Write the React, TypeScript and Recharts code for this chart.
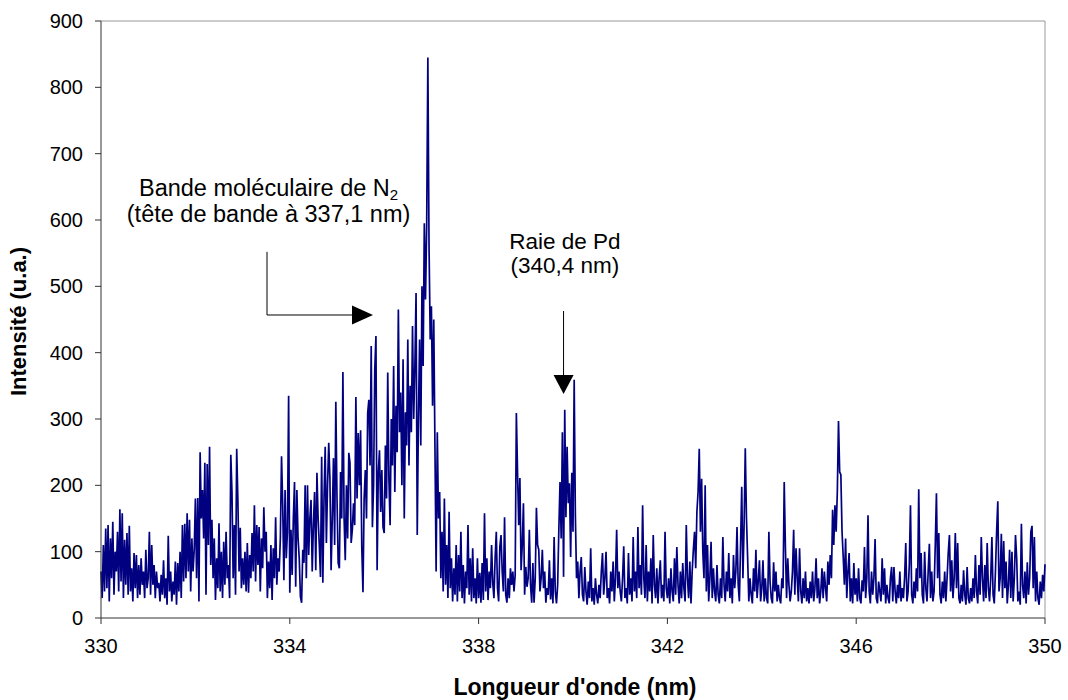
import { Label, Line, LineChart, ReferenceDot, ReferenceLine, XAxis, YAxis } from "recharts";

// Spectre d'émission : intensité relevée tous les 0,025 nm, de 330 à 350 nm
const START_NM = 330;
const STEP_NM = 0.025;

const int330 = [70, 30, 110, 40, 135, 45, 140, 25, 120, 60, 145, 35, 100, 70, 130, 40, 164, 55, 158, 30, 118, 50, 128, 35, 139, 40, 75, 25, 98, 45, 95, 30, 80, 35, 90, 50, 70, 30, 103, 45];
const int331 = [60, 130, 35, 110, 50, 80, 30, 70, 45, 53, 25, 65, 35, 87, 30, 60, 20, 124, 40, 70, 25, 55, 35, 85, 20, 83, 40, 100, 30, 140, 55, 142, 60, 158, 70, 148, 40, 120, 70, 103];
const int332 = [180, 60, 181, 25, 250, 150, 193, 120, 234, 35, 232, 110, 258, 80, 148, 60, 120, 27, 90, 45, 143, 40, 100, 30, 115, 50, 130, 60, 80, 30, 246, 190, 60, 140, 35, 255, 178, 70, 136, 45];
const int333 = [90, 50, 100, 40, 113, 38, 95, 60, 128, 70, 170, 55, 140, 80, 137, 40, 120, 75, 167, 100, 130, 30, 85, 45, 110, 27, 105, 60, 152, 50, 90, 70, 120, 244, 170, 57, 193, 90, 130, 335];
const int334 = [38, 133, 65, 150, 205, 47, 193, 120, 90, 32, 23, 103, 83, 200, 60, 200, 95, 150, 178, 70, 140, 190, 72, 219, 150, 110, 62, 243, 53, 180, 258, 113, 200, 264, 210, 72, 150, 241, 110, 326];
const int335 = [181, 83, 75, 220, 150, 371, 152, 87, 200, 120, 249, 234, 113, 133, 173, 140, 333, 180, 279, 200, 283, 107, 39, 180, 223, 150, 309, 329, 230, 410, 137, 200, 374, 425, 72, 219, 253, 160, 223, 137];
const int336 = [128, 260, 180, 370, 210, 140, 300, 230, 380, 190, 320, 250, 465, 280, 340, 200, 390, 150, 310, 260, 420, 230, 350, 280, 440, 300, 380, 490, 125, 300, 420, 260, 500, 380, 595, 480, 590, 845, 560, 420];
const int337 = [470, 320, 450, 260, 70, 280, 150, 190, 60, 130, 40, 180, 50, 110, 30, 160, 45, 90, 25, 75, 35, 110, 25, 95, 40, 130, 30, 80, 22, 70, 45, 140, 35, 90, 25, 105, 30, 60, 22, 90];
const int338 = [30, 68, 23, 83, 27, 158, 40, 90, 27, 70, 45, 110, 53, 30, 90, 130, 45, 25, 107, 125, 70, 40, 152, 35, 23, 60, 30, 75, 50, 70, 40, 65, 309, 220, 140, 211, 72, 110, 173, 35];
const int339 = [77, 47, 60, 133, 50, 23, 83, 23, 60, 166, 110, 103, 40, 60, 103, 45, 70, 23, 45, 35, 87, 28, 60, 22, 122, 40, 22, 50, 133, 205, 120, 280, 62, 314, 152, 258, 173, 203, 92, 219];
const int340 = [130, 359, 155, 60, 85, 30, 70, 92, 35, 25, 77, 40, 20, 55, 30, 105, 25, 45, 20, 60, 35, 22, 50, 30, 70, 98, 35, 60, 100, 30, 45, 22, 70, 40, 85, 25, 60, 133, 45, 70];
const int341 = [40, 25, 60, 108, 30, 45, 22, 98, 35, 60, 25, 122, 40, 70, 30, 137, 45, 80, 35, 170, 60, 30, 110, 25, 70, 40, 90, 22, 125, 50, 30, 75, 22, 60, 87, 30, 50, 25, 130, 45];
const int342 = [30, 60, 22, 75, 40, 25, 90, 35, 107, 50, 22, 70, 30, 83, 45, 25, 140, 60, 30, 85, 22, 70, 103, 130, 75, 160, 190, 255, 130, 210, 100, 60, 200, 40, 110, 25, 60, 115, 30, 75];
const int343 = [40, 25, 80, 35, 22, 60, 30, 122, 50, 25, 70, 40, 98, 30, 60, 22, 95, 45, 70, 137, 50, 25, 110, 198, 60, 140, 256, 151, 90, 25, 60, 35, 22, 75, 40, 103, 30, 55, 87, 25];
const int344 = [45, 87, 25, 60, 30, 22, 130, 55, 30, 22, 84, 40, 70, 25, 50, 30, 22, 60, 45, 205, 107, 30, 90, 50, 25, 40, 70, 133, 35, 105, 60, 25, 105, 40, 22, 60, 30, 70, 25, 45];
const int345 = [22, 55, 30, 70, 25, 45, 90, 30, 60, 22, 40, 75, 30, 70, 45, 25, 85, 50, 95, 60, 163, 110, 170, 130, 190, 297, 220, 216, 130, 92, 50, 120, 30, 70, 98, 25, 60, 22, 83, 35];
const int346 = [60, 25, 75, 30, 22, 57, 40, 107, 30, 60, 155, 40, 22, 70, 35, 60, 119, 30, 22, 55, 40, 25, 90, 35, 75, 22, 50, 30, 22, 60, 77, 25, 77, 40, 22, 50, 30, 70, 25, 45];
const int347 = [30, 60, 113, 25, 40, 80, 170, 35, 22, 55, 30, 75, 40, 194, 60, 98, 35, 22, 100, 45, 25, 70, 112, 30, 70, 25, 40, 110, 188, 60, 128, 35, 22, 55, 30, 70, 25, 60, 98, 125];
const int348 = [40, 87, 30, 60, 128, 45, 113, 30, 22, 50, 25, 72, 35, 20, 77, 30, 22, 45, 25, 60, 30, 95, 40, 22, 80, 35, 122, 60, 25, 80, 30, 113, 45, 25, 60, 122, 35, 22, 70, 130];
const int349 = [176, 40, 60, 127, 30, 116, 45, 85, 22, 50, 103, 30, 100, 25, 60, 125, 90, 25, 40, 20, 142, 50, 30, 70, 22, 84, 35, 60, 130, 139, 45, 122, 25, 70, 30, 20, 55, 30, 65, 40];
const int350 = [81];

const xTicks = [330, 334, 338, 342, 346, 350];
const yTicks = [0, 100, 200, 300, 400, 500, 600, 700, 800, 900];

const intensities = [
  int330, int331, int332, int333, int334, int335, int336, int337, int338, int339,
  int340, int341, int342, int343, int344, int345, int346, int347, int348, int349, int350,
].flat();

const data = intensities.map((v, i) => ({ wl: +(START_NM + i * STEP_NM).toFixed(3), v }));

const FONT = "'Liberation Sans', Arial, Helvetica, sans-serif";
const tickStyle = { fill: "#000", fontSize: 20, fontFamily: FONT };

function XTitle(props: any) {
  const vb = props.viewBox;
  return (
    <text x={vb.x + vb.width / 2 + 2} y={vb.y + 77} textAnchor="middle" fontFamily={FONT} fontSize={23} fontWeight="bold" fill="#000">
      Longueur d'onde (nm)
    </text>
  );
}

function YTitle(props: any) {
  const vb = props.viewBox;
  const cx = 26;
  const cy = vb.y + vb.height / 2 + 2;
  return (
    <text x={cx} y={cy} transform={`rotate(-90, ${cx}, ${cy})`} textAnchor="middle" fontFamily={FONT} fontSize={22} fontWeight="bold" fill="#000">
      Intensité (u.a.)
    </text>
  );
}

const n2Text = (p: any) => (
  <g fontFamily={FONT} fontSize={23.5} fill="#000">
    <text x={p.cx} y={p.cy} textAnchor="middle">
      Bande moléculaire de N<tspan fontSize={15} dy={4}>2</tspan>
    </text>
    <text x={p.cx} y={p.cy + 26} textAnchor="middle">
      (tête de bande à 337,1 nm)
    </text>
  </g>
);

const pdText = (p: any) => (
  <g fontFamily={FONT} fontSize={22.5} fill="#000">
    <text x={p.cx} y={p.cy} textAnchor="middle">Raie de Pd</text>
    <text x={p.cx} y={p.cy + 24} textAnchor="middle">(340,4 nm)</text>
  </g>
);

const headRight = (p: any) => (
  <polygon points={`${p.cx},${p.cy} ${p.cx - 21},${p.cy - 9.5} ${p.cx - 21},${p.cy + 9.5}`} fill="#000" />
);

const headDown = (p: any) => (
  <polygon points={`${p.cx},${p.cy} ${p.cx - 10},${p.cy - 19} ${p.cx + 10},${p.cy - 19}`} fill="#000" />
);

export default function App() {
  return (
    <div style={{ position: "absolute", left: 0, top: 0, background: "#fff" }}>
      <LineChart width={1068} height={700} data={data} margin={{ top: 21, right: 23, bottom: 0, left: 0 }}>
        <XAxis
          dataKey="wl"
          type="number"
          domain={[330, 350]}
          ticks={xTicks}
          interval={0}
          height={82}
          tickSize={6}
          tickMargin={15}
          stroke="#333"
          tick={tickStyle}
        >
          <Label content={XTitle} />
        </XAxis>
        <YAxis
          type="number"
          domain={[0, 900]}
          ticks={yTicks}
          interval={0}
          width={101}
          tickSize={6}
          tickMargin={12}
          stroke="#333"
          tick={tickStyle}
        >
          <Label content={YTitle} />
        </YAxis>
        <ReferenceLine y={900} stroke="#999" />
        <ReferenceLine x={350} stroke="#999" />
        <Line dataKey="v" stroke="#000080" strokeWidth={1.7} dot={false} isAnimationActive={false} />

        <ReferenceLine segment={[{ x: 333.517, y: 552 }, { x: 333.517, y: 456.8 }]} stroke="#000" />
        <ReferenceLine segment={[{ x: 333.517, y: 456.8 }, { x: 335.32, y: 456.8 }]} stroke="#000" />
        <ReferenceDot x={335.763} y={456.8} r={0} shape={headRight} />
        <ReferenceDot x={333.55} y={636} r={0} shape={n2Text} />

        <ReferenceLine segment={[{ x: 339.8, y: 462.8 }, { x: 339.8, y: 366 }]} stroke="#000" />
        <ReferenceDot x={339.8} y={337.7} r={0} shape={headDown} />
        <ReferenceDot x={339.83} y={556.3} r={0} shape={pdText} />
      </LineChart>
    </div>
  );
}
